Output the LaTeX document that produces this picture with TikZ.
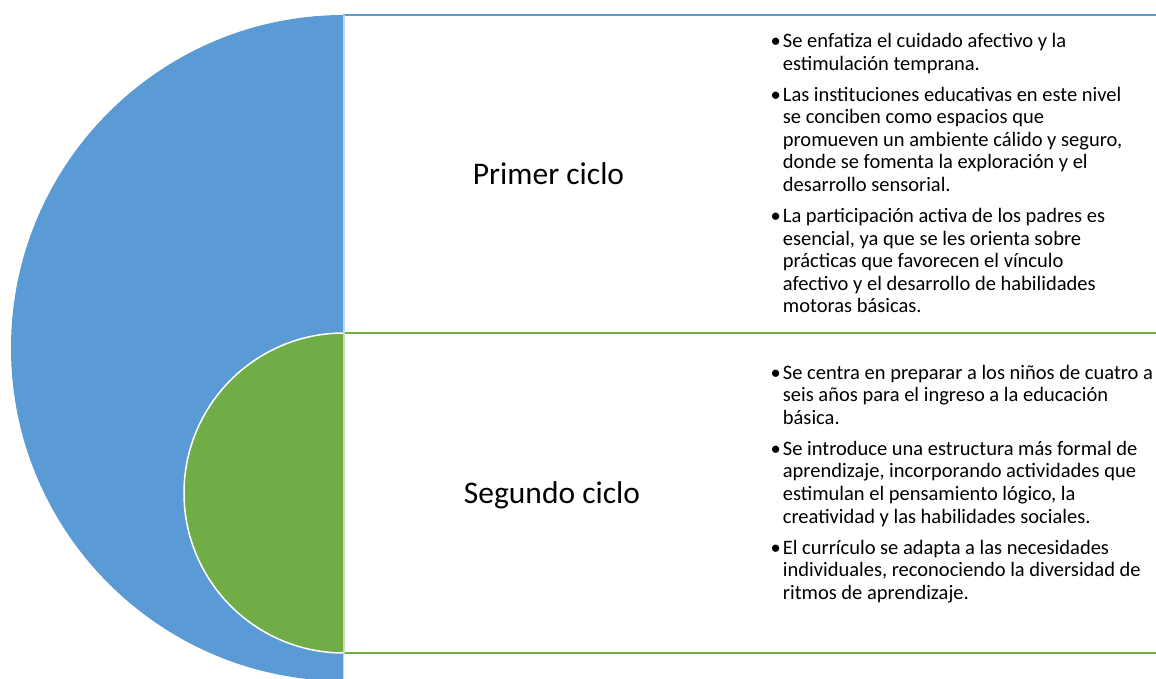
\documentclass[tikz,border=0pt]{standalone}
\usepackage{fontspec}
\setmainfont{Carlito}
\definecolor{cblue}{HTML}{5B9BD5}
\definecolor{cgreen}{HTML}{70AD47}
\newcommand\mylines[1]{\vtop{\halign{##\hfil\cr#1\crcr}}}
\newcommand\bul{\llap{•\hspace{2pt}}}
\newcommand\pgap{\noalign{\vskip 8.4pt}}
\begin{document}
\begin{tikzpicture}[x=1pt,y=-1pt,
  bullets/.style={anchor=base west, inner sep=0pt, font=\fontsize{20.5}{22.6}\selectfont},
  title/.style={anchor=base, inner sep=0pt, font=\fontsize{31.5}{36}\selectfont},
  panel/.style={fill=white, line width=1.5pt}]
\useasboundingbox (0,0) rectangle (1156,679);
\clip (0,0) rectangle (1156,679);
% half discs
\fill[cblue] (344,15) arc[start angle=270, end angle=90, radius=333] -- cycle;
\fill[cgreen] (344,333) arc[start angle=270, end angle=90, radius=160] -- cycle;
\draw[white, line width=1.5pt] (344,333) arc[start angle=270, end angle=90, radius=160];
% panels
\filldraw[panel, draw=cblue] (344,15) rectangle (1175,333);
\filldraw[panel, draw=cgreen] (344,333) rectangle (1175,653);
\draw[white, opacity=0.6, line width=1.5pt] (344,15) -- (344,690);
% titles
\node[title] (c1) at (548.5,185) {Primer ciclo};
\node[title] (c2) at (552,503.5) {Segundo ciclo};
% bullets
\node[bullets] (t1) at (782.7,47.5) {\mylines{%
\bul Se enfatiza el cuidado afectivo y la\cr
estimulación temprana.\cr\pgap
\bul Las instituciones educativas en este nivel\cr
se conciben como espacios que\cr
promueven un ambiente cálido y seguro,\cr
donde se fomenta la exploración y el\cr
desarrollo sensorial.\cr\pgap
\bul La participación activa de los padres es\cr
esencial, ya que se les orienta sobre\cr
prácticas que favorecen el vínculo\cr
afectivo y el desarrollo de habilidades\cr
motoras básicas.}};
\node[bullets] (t2) at (782.7,379) {\mylines{%
\bul Se centra en preparar a los niños de cuatro a\cr
seis años para el ingreso a la educación\cr
básica.\cr\pgap
\bul Se introduce una estructura más formal de\cr
aprendizaje, incorporando actividades que\cr
estimulan el pensamiento lógico, la\cr
creatividad y las habilidades sociales.\cr\pgap
\bul El currículo se adapta a las necesidades\cr
individuales, reconociendo la diversidad de\cr
ritmos de aprendizaje.}};
\end{tikzpicture}
\end{document}
